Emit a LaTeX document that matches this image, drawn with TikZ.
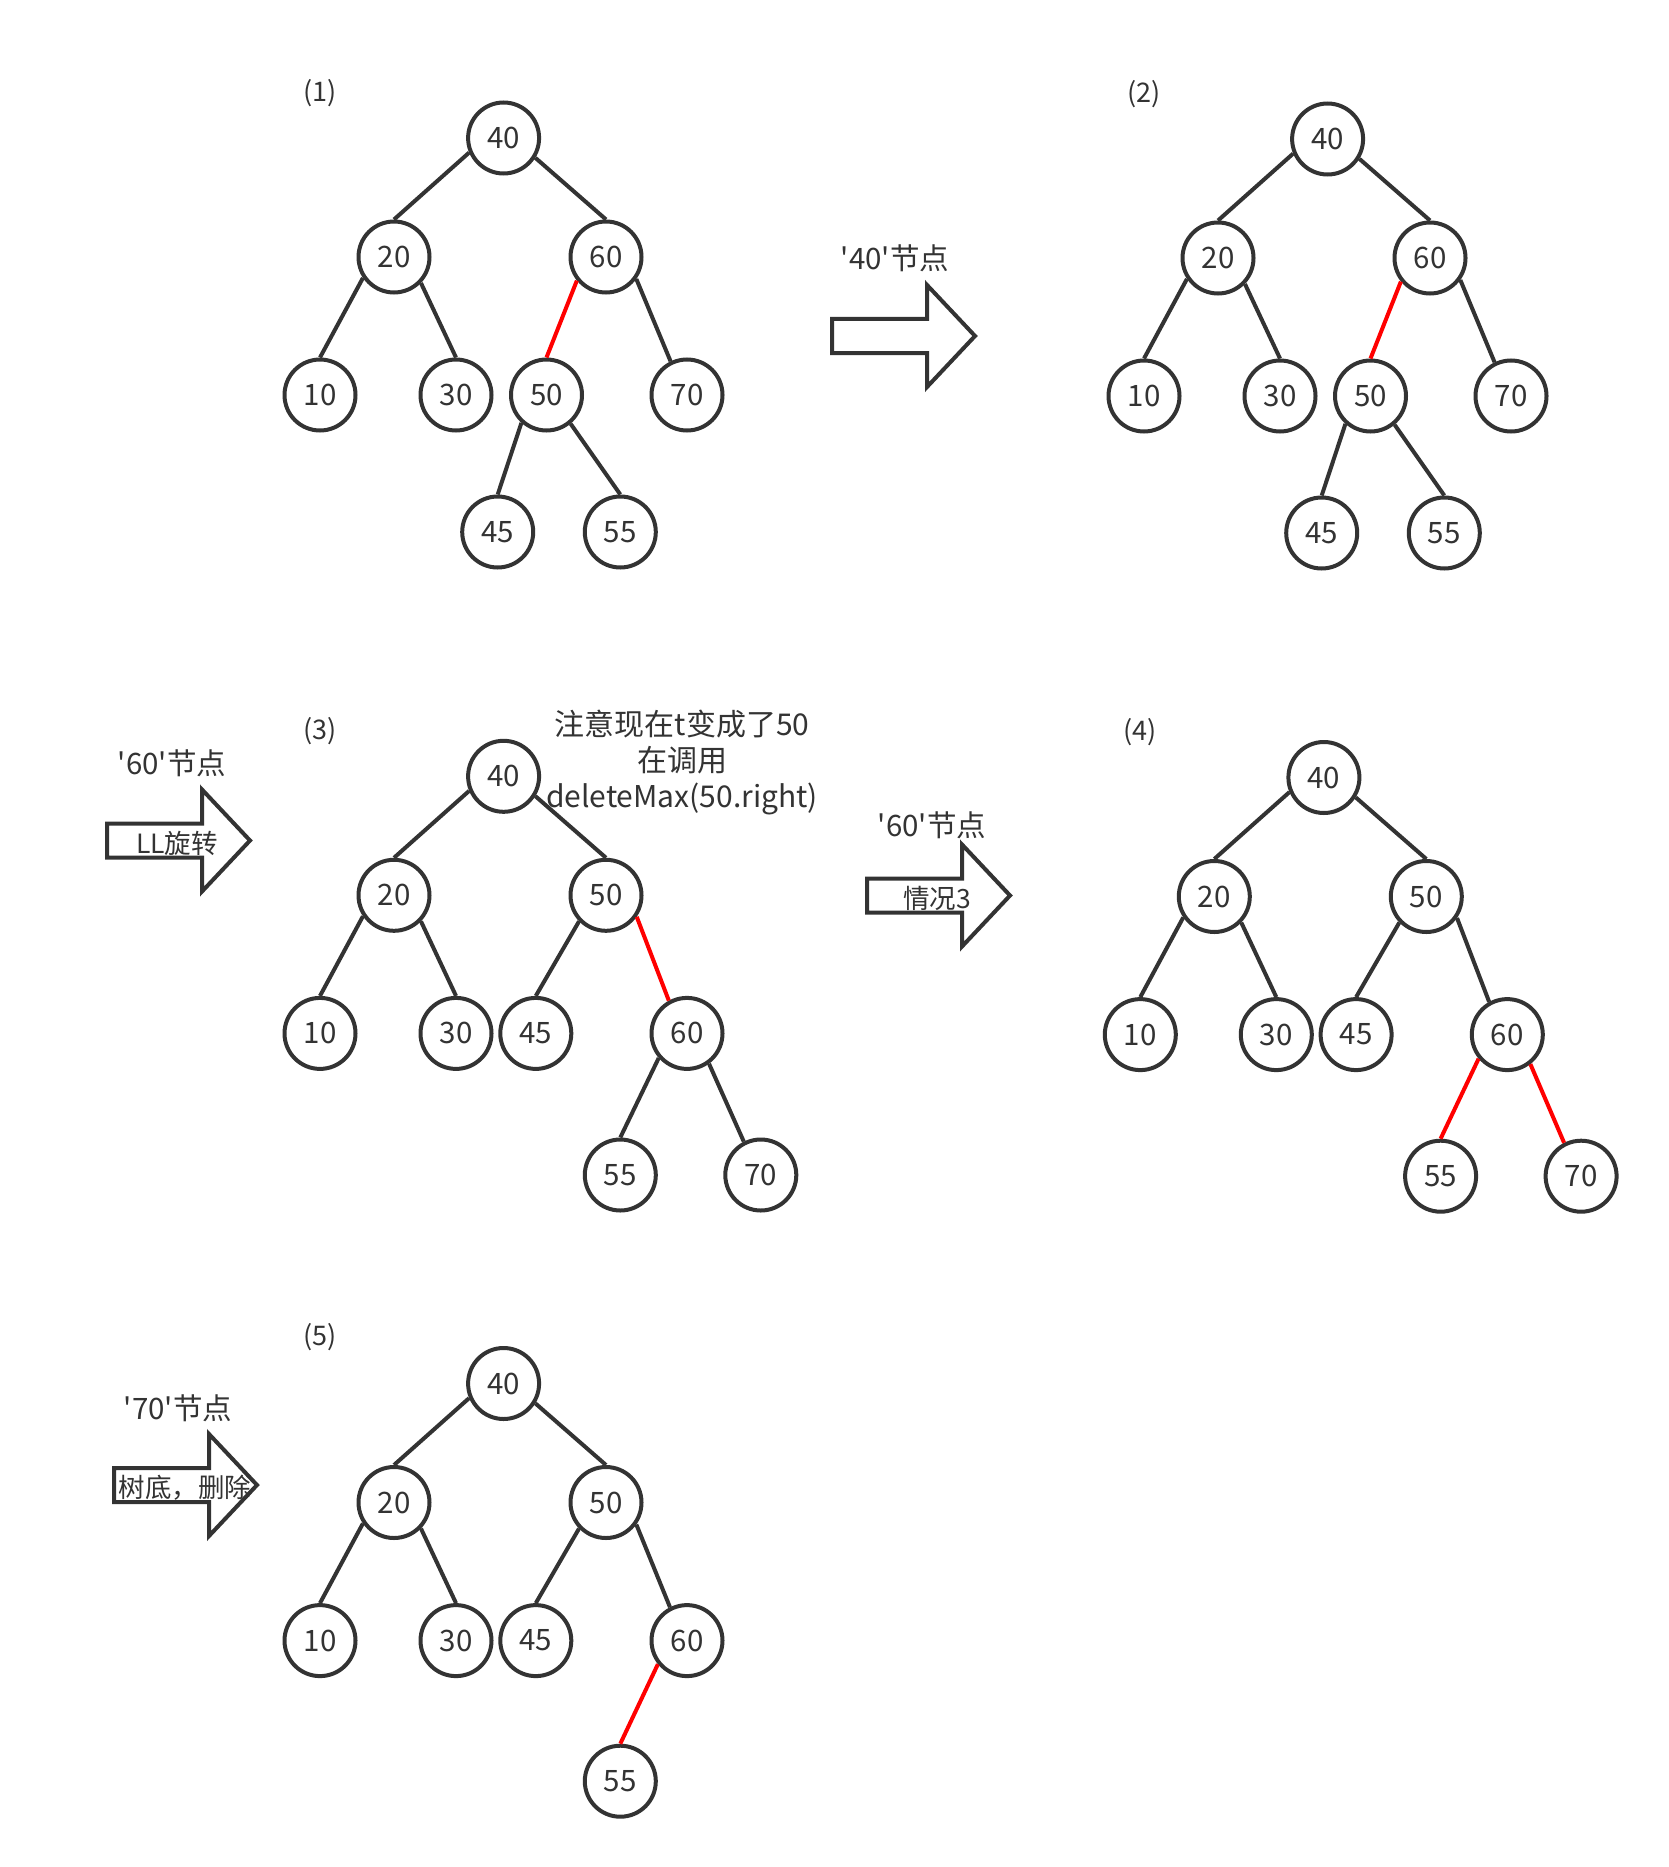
\documentclass[tikz,border=0pt]{standalone}
\usepackage{fontspec}
\setmainfont{Noto Sans CJK SC}[Ligatures=TeXOff]
\definecolor{ink}{HTML}{333333}
\definecolor{redline}{HTML}{FF0000}
\tikzset{
  tnode/.style={circle, draw=ink, line width=4pt, minimum size=71pt, inner sep=0pt,
    text=ink, font=\fontsize{29.5}{32}\selectfont, fill=white},
  edge/.style={draw=ink, line width=4pt},
  rededge/.style={draw=redline, line width=4pt},
  lbl/.style={text=ink, font=\fontsize{27}{32}\selectfont, inner sep=0pt},
  toptext/.style={text=ink, font=\fontsize{29.5}{32}\selectfont, inner sep=0pt},
  intext/.style={text=ink, font=\fontsize{26.5}{30}\selectfont, inner sep=0pt},
  note/.style={text=ink, font=\fontsize{30}{36}\selectfont, inner sep=0pt, align=center},
  arrowbox/.style={draw=ink, line width=4pt, fill=white, line join=miter},
}
\newcommand\fatarrow[2]{\draw[arrowbox] (#1,#2) ++(0,-17) -- ++(95,0) -- ++(0,-34) -- ++(48,51) -- ++(-48,51) -- ++(0,-34) -- ++(-95,0) -- cycle;}
\begin{document}
\begin{tikzpicture}[x=1pt,y=-1pt]
\useasboundingbox[fill=white] (0,0) rectangle (1668,1867);

% ---------- Tree 1 ----------
\node[lbl] (l1) at (320,93) {(1)};
\node[tnode] (a40) at (503.6,138) {40};
\node[tnode] (a20) at (394,257) {20};
\node[tnode] (a60) at (606,257) {60};
\node[tnode] (a10) at (320,395) {10};
\node[tnode] (a30) at (456,395) {30};
\node[tnode] (a50) at (546.5,395) {50};
\node[tnode] (a70) at (687,395) {70};
\node[tnode] (a45) at (497.7,532) {45};
\node[tnode] (a55) at (620.3,532) {55};
\draw[edge] (a40.203) -- (a20.north);
\draw[edge] (a40.-32) -- (a60.north);
\draw[edge] (a20.214) -- (a10.north);
\draw[edge] (a20.-44) -- (a30.north);
\draw[rededge] (a60.219) -- (a50.north);
\draw[edge] (a60.-36) -- (a70.116);
\draw[edge] (a50.228) -- (a45.north);
\draw[edge] (a50.-50) -- (a55.north);

% ---------- Tree 2 ----------
\begin{scope}[shift={(824,1)}]
\node[lbl] (l2) at (320,93) {(2)};
\node[tnode] (b40) at (503.6,138) {40};
\node[tnode] (b20) at (394,257) {20};
\node[tnode] (b60) at (606,257) {60};
\node[tnode] (b10) at (320,395) {10};
\node[tnode] (b30) at (456,395) {30};
\node[tnode] (b50) at (546.5,395) {50};
\node[tnode] (b70) at (687,395) {70};
\node[tnode] (b45) at (497.7,532) {45};
\node[tnode] (b55) at (620.3,532) {55};
\end{scope}
\draw[edge] (b40.203) -- (b20.north);
\draw[edge] (b40.-32) -- (b60.north);
\draw[edge] (b20.214) -- (b10.north);
\draw[edge] (b20.-44) -- (b30.north);
\draw[rededge] (b60.219) -- (b50.north);
\draw[edge] (b60.-36) -- (b70.116);
\draw[edge] (b50.228) -- (b45.north);
\draw[edge] (b50.-50) -- (b55.north);

% arrow 1
\node[toptext] (t1) at (895,258) {'40'节点};
\fatarrow{832}{336}

% ---------- Tree 3 ----------
\node[lbl] (l3) at (320,731) {(3)};
\node[tnode] (c40) at (503.6,776.3) {40};
\node[tnode] (c20) at (394,895.3) {20};
\node[tnode] (c50) at (606,895.3) {50};
\node[tnode] (c10) at (320,1033.4) {10};
\node[tnode] (c30) at (456,1033.4) {30};
\node[tnode] (c45) at (535.8,1033.4) {45};
\node[tnode] (c60) at (687,1033.4) {60};
\node[tnode] (c55) at (620.3,1175) {55};
\node[tnode] (c70) at (760.8,1175) {70};
\draw[edge] (c40.203) -- (c20.north);
\draw[edge] (c40.-32) -- (c50.north);
\draw[edge] (c20.214) -- (c10.north);
\draw[edge] (c20.-44) -- (c30.north);
\draw[edge] (c50.224) -- (c45.north);
\draw[rededge] (c50.-35) -- (c60.119);
\draw[edge] (c60.221) -- (c55.north);
\draw[edge] (c60.-54) -- (c70.117);

\node[note] (n1) at (682,763) {注意现在t变成了50\\在调用\\deleteMax(50.right)};

% arrow 2
\node[toptext] (t2) at (172,763) {'60'节点};
\fatarrow{107}{840.5}
\node[intext] (i2) at (177,843) {LL旋转};

% ---------- Tree 4 ----------
\begin{scope}[shift={(820.3,1.2)}]
\node[lbl] (l4) at (320,731) {(4)};
\node[tnode] (d40) at (503.6,776.3) {40};
\node[tnode] (d20) at (394,895.3) {20};
\node[tnode] (d50) at (606,895.3) {50};
\node[tnode] (d10) at (320,1033.4) {10};
\node[tnode] (d30) at (456,1033.4) {30};
\node[tnode] (d45) at (535.8,1033.4) {45};
\node[tnode] (d60) at (687,1033.4) {60};
\node[tnode] (d55) at (620.3,1175) {55};
\node[tnode] (d70) at (760.8,1175) {70};
\end{scope}
\draw[edge] (d40.203) -- (d20.north);
\draw[edge] (d40.-32) -- (d50.north);
\draw[edge] (d20.214) -- (d10.north);
\draw[edge] (d20.-44) -- (d30.north);
\draw[edge] (d50.224) -- (d45.north);
\draw[edge] (d50.-35) -- (d60.119);
\draw[rededge] (d60.220) -- (d55.north);
\draw[rededge] (d60.-52) -- (d70.117);

% arrow 3
\node[toptext] (t3) at (932,825) {'60'节点};
\fatarrow{867}{895.5}
\node[intext] (i3) at (937,898) {情况3};

% ---------- Tree 5 ----------
\begin{scope}[shift={(0,607.2)}]
\node[lbl] (l5) at (320,730) {(5)};
\node[tnode] (e40) at (503.6,776.3) {40};
\node[tnode] (e20) at (394,895.3) {20};
\node[tnode] (e50) at (606,895.3) {50};
\node[tnode] (e10) at (320,1033.4) {10};
\node[tnode] (e30) at (456,1033.4) {30};
\node[tnode] (e45) at (535.8,1033.4) {45};
\node[tnode] (e60) at (687,1033.4) {60};
\node[tnode] (e55) at (620.3,1174) {55};
\end{scope}
\draw[edge] (e40.203) -- (e20.north);
\draw[edge] (e40.-32) -- (e50.north);
\draw[edge] (e20.214) -- (e10.north);
\draw[edge] (e20.-44) -- (e30.north);
\draw[edge] (e50.224) -- (e45.north);
\draw[edge] (e50.-36) -- (e60.117);
\draw[rededge] (e60.219) -- (e55.north);

% arrow 4
\node[toptext] (t4) at (178,1408) {'70'节点};
\fatarrow{114}{1485}
\node[intext] (i4) at (185,1488) {树底，删除};
\end{tikzpicture}
\end{document}
